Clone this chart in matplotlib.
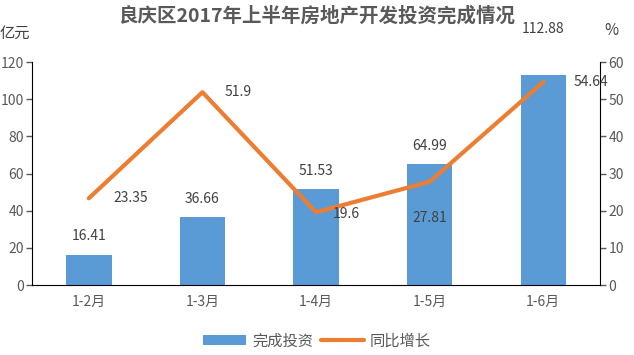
import matplotlib
matplotlib.use("Agg")
import matplotlib.pyplot as plt

plt.rcParams['font.family'] = ['Noto Sans CJK SC', 'DejaVu Sans']

categories = ["1-2月", "1-3月", "1-4月", "1-5月", "1-6月"]
investment = [16.41, 36.66, 51.53, 64.99, 112.88]
growth = [23.35, 51.9, 19.6, 27.81, 54.64]
inv_labels = ["16.41", "36.66", "51.53", "64.99", "112.88"]
growth_labels = ["23.35", "51.9", "19.6", "27.81", "54.64"]

blue = "#5B9BD5"
orange = "#ED7D31"
gray = "#595959"

fig = plt.figure(figsize=(6.34, 3.55), dpi=100)
ax = fig.add_axes([0.0505, 0.197, 0.896, 0.628])
x = list(range(len(categories)))
bars = ax.bar(x, investment, width=0.4, color=blue, zorder=2, label="完成投资")
ax.set_xlim(-0.5, len(categories) - 0.5)
ax.set_ylim(0, 120)
ax.set_yticks(range(0, 121, 20))
ax.set_xticks(x)
ax.set_xticklabels(categories)
ax2 = ax.twinx()
ln, = ax2.plot(x, growth, color=orange, lw=3, zorder=3, label="同比增长", solid_capstyle='round')
ax2.set_ylim(0, 60)
ax2.set_yticks(range(0, 61, 10))

for a in (ax, ax2):
    a.spines["top"].set_visible(False)
    a.tick_params(colors=gray, labelsize=10, length=4, width=1, pad=2)
ax.spines["right"].set_visible(False)
ax2.spines["left"].set_visible(False)
ax2.spines["bottom"].set_visible(False)
ax.tick_params(axis='x', length=0, pad=7)

bar_offsets = [8, 8, 8, 8, 28]
for xi, v, t, dy in zip(x, investment, inv_labels, bar_offsets):
    ax.annotate(t, (xi, v), xytext=(0, dy), textcoords="offset points",
                ha="center", va="bottom", fontsize=10, color="#404040")

offsets = [(18, 0), (16, 0), (12, -1), (0, -26), (22, 0)]
for xi, v, t, (dx, dy) in zip(x, growth, growth_labels, offsets):
    ax2.annotate(t, (xi, v), xytext=(dx, dy), textcoords="offset points",
                 ha="left" if dx else "center", va="center", fontsize=10, color="#404040")

fig.text(0.5, 0.955, "良庆区2017年上半年房地产开发投资完成情况", ha="center", va="center",
         fontsize=14, fontweight="bold", color=gray)
fig.text(0.0, 0.905, "亿元", ha="left", va="center", fontsize=11, color="#404040")
fig.text(0.965, 0.915, "%", ha="center", va="center", fontsize=11, color="#404040")

fig.legend([bars, ln], ["完成投资", "同比增长"], loc="center", bbox_to_anchor=(0.5, 0.04),
           ncol=2, frameon=False, fontsize=11, handlelength=2.8, handletextpad=0.4,
           columnspacing=0.5, labelcolor=gray)

fig.savefig("out.png", dpi=100)
